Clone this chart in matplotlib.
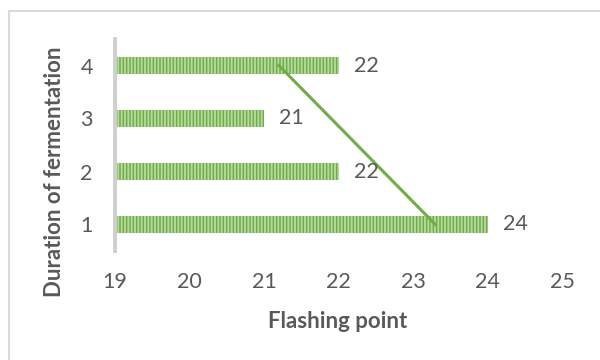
import numpy as np
import matplotlib
matplotlib.use('Agg')
import matplotlib.pyplot as plt
from matplotlib.patches import Rectangle

# данные
durations = [1, 2, 3, 4]
flashing_points = [24, 22, 21, 22]
x_ticks = [19, 20, 21, 22, 23, 24, 25]

text_color = '#595959'
bar_color = '#70AD47'
stripe_color = '#B9DBA2'

plt.rcParams['font.family'] = ['Lato', 'DejaVu Sans']
plt.rcParams['hatch.linewidth'] = 1.3

fig = plt.figure(figsize=(6, 3.6), dpi=100)
ax = fig.add_axes([115 / 600, 1 - 251 / 360, (562 - 115) / 600, (251 - 39) / 360])

# рамка вокруг диаграммы (уходит за край картинки)
fig.patches.append(Rectangle((9 / 600, -0.1), 1.2, 1 - 10.5 / 360 + 0.1,
                             transform=fig.transFigure, fill=False,
                             edgecolor='#D9D9D9', linewidth=1.5))

left = x_ticks[0]
widths = [v - left for v in flashing_points]
ax.barh(durations, widths, left=left, height=0.32, color=bar_color,
        edgecolor=stripe_color, linewidth=0, hatch='|||||')

# линейный тренд
k, b = np.polyfit(durations, flashing_points, 1)
d = np.array([durations[0], durations[-1]])
ax.plot(k * d + b, d, color=bar_color, linewidth=2.2)

for y, v in zip(durations, flashing_points):
    ax.annotate(str(v), (v, y), xytext=(11, 0), textcoords='offset points',
                ha='left', va='center', fontsize=15.5, color=text_color)

ax.set_xlim(x_ticks[0], x_ticks[-1])
ax.set_ylim(0.5, 4.5)
ax.set_xticks(x_ticks)
ax.set_yticks(durations)
for s in ['top', 'right', 'bottom']:
    ax.spines[s].set_visible(False)
ax.spines['left'].set_color('#CFCFCF')
ax.spines['left'].set_linewidth(2.8)
ax.tick_params(length=0, labelsize=15.5, labelcolor=text_color)
ax.tick_params(axis='x', pad=15)
ax.tick_params(axis='y', pad=16)

fig.text(338 / 600, 1 - 321 / 360, 'Flashing point', ha='center', va='center',
         fontsize=16, fontweight='bold', color=text_color)
fig.text(55 / 600, 1 - 172 / 360, 'Duration of fermentation', ha='center',
         va='center', rotation=90, fontsize=16, fontweight='bold', color=text_color)

fig.savefig('out.png', dpi=100)
